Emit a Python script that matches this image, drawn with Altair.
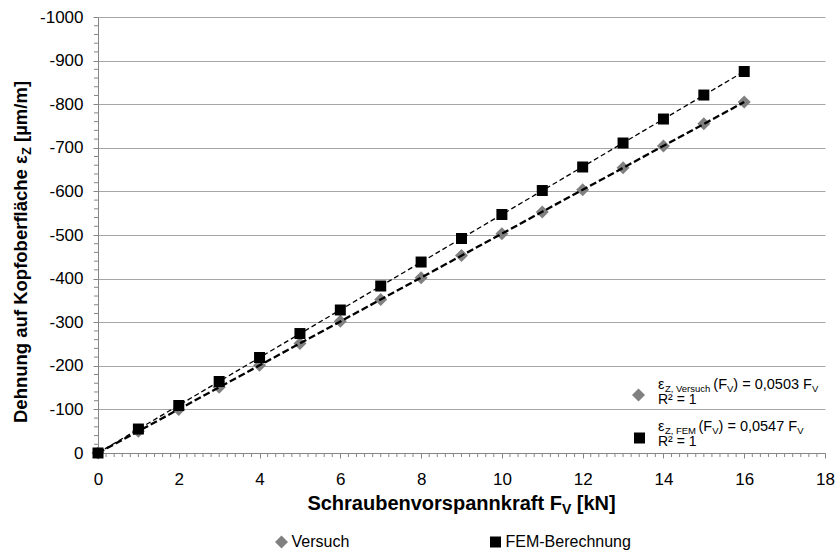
import altair as alt
import pandas as pd

# ---------------- data ----------------
F_kN = list(range(17))
eps_versuch = [0, -50, -100, -151, -201, -251, -302, -352, -402, -453,
               -503, -553, -604, -654, -704, -755, -805]
eps_fem = [0, -55, -109, -164, -219, -274, -328, -383, -438, -492,
           -547, -602, -656, -711, -766, -821, -875]
series_names = ["Versuch", "FEM-Berechnung"]
x_ticks = list(range(0, 19, 2))
y_ticks = list(range(-1000, 1, 100))
eq_versuch = ["ε", "Z, Versuch", "(F", "V", ") = 0,0503 F", "V"]
eq_fem = ["ε", "Z, FEM", "(F", "V", ") = 0,0547 F", "V"]
r2_text = "R² = 1"
x_title = ["Schraubenvorspannkraft F", "V", "[kN]"]
y_title = ["Dehnung auf Kopfoberfläche ε", "Z", "[µm/m]"]

# ---------------- layout ----------------
W, H = 727, 436
ORX, ORY = 98, 17
FONT = "Liberation Sans"
AXC = "#868686"
GRIDC = "#a6a6a6"

df = pd.DataFrame({
    "F": F_kN * 2,
    "eps": eps_versuch + eps_fem,
    "series": [series_names[0]] * len(F_kN) + [series_names[1]] * len(F_kN),
})

X_SCALE = alt.Scale(domain=[0, 18], nice=False, zero=False)
Y_SCALE = alt.Scale(domain=[-1000, 0], reverse=True, nice=False)

# Arial / Liberation Sans metrics (units per 1000 em)
AR = {" ": 278, "(": 333, ")": 333, ",": 278, ".": 278, "=": 584,
      "²": 333, "F": 611, "R": 722, "V": 667, "Z": 611, "E": 667, "M": 833,
      "e": 556, "r": 333, "s": 500, "u": 556, "c": 500, "h": 556, "ε": 440}
for d in "0123456789":
    AR[d] = 556
ARB = {" ": 278, "S": 667, "c": 556, "h": 611, "r": 389, "a": 556,
       "u": 611, "b": 611, "e": 556, "n": 611, "v": 556, "o": 611, "p": 611,
       "k": 556, "f": 333, "t": 333, "F": 611, "V": 667, "[": 333, "]": 333,
       "N": 722, "K": 722, "D": 722, "g": 611, "l": 278, "ä": 556, "ε": 490,
       "Z": 611, "µ": 611, "m": 889, "/": 278}


def tw(s, size, bold=False):
    tbl = ARB if bold else AR
    return sum(tbl.get(c, 556) for c in s) * size / 1000.0


dummy = pd.DataFrame({"k": [0]})


def txt(s, x, y, size, bold=False, angle=0):
    kw = dict(text=s, fontSize=size, font=FONT, align="left",
              baseline="alphabetic", color="black")
    if bold:
        kw["fontWeight"] = "bold"
    if angle:
        kw["angle"] = angle
    return alt.Chart(dummy).mark_text(**kw).encode(
        x=alt.value(x - ORX), y=alt.value(y - ORY))


def rich_h(parts, sizes, shifts, gaps, x0, y0, bold=False):
    layers = []
    x = x0
    for s, sz, sh, g in zip(parts, sizes, shifts, gaps):
        x += g
        layers.append(txt(s, x, y0 + sh, sz, bold))
        x += tw(s, sz, bold)
    return layers


def rich_v(parts, sizes, shifts, gaps, x0, y0, bold=False):
    layers = []
    y = y0
    for s, sz, sh, g in zip(parts, sizes, shifts, gaps):
        y -= g
        layers.append(txt(s, x0 + sh, y, sz, bold, angle=270))
        y -= tw(s, sz, bold)
    return layers


# ---------------- marks ----------------
legend = alt.Legend(orient="none", legendX=175.5, legendY=517,
                    direction="horizontal", title=None,
                    symbolSize=90, labelFontSize=16,
                    labelFont=FONT, labelColor="black",
                    labelOffset=2, columnPadding=138,
                    padding=0, symbolStrokeWidth=0)

points = alt.Chart(df).mark_point(filled=True, opacity=1).encode(
    x=alt.X("F:Q", scale=X_SCALE, axis=alt.Axis(
        values=x_ticks, title=None, grid=False, tickSize=5, labelPadding=13,
        labelFlush=False, labelOverlap=False)),
    y=alt.Y("eps:Q", scale=Y_SCALE, axis=alt.Axis(
        values=y_ticks, title=None, grid=True, tickSize=5, labelPadding=10,
        labelExpr="'' + datum.value")),
    color=alt.Color("series:N", scale=alt.Scale(domain=series_names,
                                                range=["#808080", "#000000"]),
                    legend=legend),
    shape=alt.Shape("series:N", scale=alt.Scale(domain=series_names,
                                                range=["diamond", "square"]),
                    legend=legend),
    size=alt.Size("series:N", scale=alt.Scale(domain=series_names,
                                              range=[169, 121]), legend=None),
)


def trend(name, width, dash):
    return alt.Chart(df).transform_filter(
        alt.datum.series == name
    ).transform_regression("F", "eps").mark_line(
        color="black", strokeWidth=width, strokeDash=dash
    ).encode(x=alt.X("F:Q", scale=X_SCALE), y=alt.Y("eps:Q", scale=Y_SCALE))


trend_v = trend(series_names[0], 2.3, [7, 3])
trend_f = trend(series_names[1], 1.3, [5, 3])

# minor ticks
x_minor = [round(i * 0.2, 1) for i in range(91) if i % 10 != 0]
y_minor = [v for v in range(-1000, 1, 20) if v % 100 != 0]
xm = alt.Chart(pd.DataFrame({"F": x_minor})).mark_rule(
    color=AXC, strokeWidth=1).encode(
    x=alt.X("F:Q", scale=X_SCALE), y=alt.value(H), y2=alt.value(H + 4))
ym = alt.Chart(pd.DataFrame({"eps": y_minor})).mark_rule(
    color=AXC, strokeWidth=1).encode(
    y=alt.Y("eps:Q", scale=Y_SCALE), x=alt.value(-4), x2=alt.value(0))

# annotation (trend equations)
eq_sizes = [14.5, 9.5, 14.5, 9.5, 14.5, 9.5]
eq_shift = [0, 3, 0, 3, 0, 3]
eq_gaps = [0, 0.5, 2.5, 0, 0, 0]
ann = []
ann += rich_h(eq_versuch, eq_sizes, eq_shift, eq_gaps, 658, 389)
ann.append(txt(r2_text, 658, 404, 14))
ann += rich_h(eq_fem, eq_sizes, eq_shift, eq_gaps, 658, 431)
ann.append(txt(r2_text, 658, 446, 14))

# axis titles with subscripts
xt_sizes = [20, 14, 20]
xt_gaps = [0, 0, 5.5]
xt_w = sum(tw(s, z, True) for s, z in zip(x_title, xt_sizes)) + sum(xt_gaps)
titles = rich_h(x_title, xt_sizes, [0, 4, 0], xt_gaps,
                ORX + W / 2 - xt_w / 2, 510, bold=True)
titles += rich_v(y_title, [18.5, 13, 18.5], [0, 4, 0], [0, 0, 5],
                 27, 423, bold=True)

# legend symbols next to the equations
eq_sym = alt.Chart(pd.DataFrame({"series": series_names,
                                 "px": [638.5 - ORX, 639.5 - ORX],
                                 "py": [395 - ORY, 438 - ORY]})).mark_point(
    filled=True, opacity=1).encode(
    x=alt.X("px:Q", scale=None), y=alt.Y("py:Q", scale=None),
    color=alt.Color("series:N"), shape=alt.Shape("series:N"),
    size=alt.Size("series:N"))

chart = alt.layer(
    points, trend_v, trend_f, xm, ym, eq_sym, *ann, *titles
).properties(
    width=W, height=H,
    autosize=alt.AutoSizeParams(type="none"),
    padding={"left": ORX, "top": ORY, "right": 837 - ORX - W,
             "bottom": 550 - ORY - H},
    background="white",
).configure_view(stroke=None).configure_axis(
    domainColor=AXC, tickColor=AXC, gridColor=GRIDC, gridWidth=1,
    labelFont=FONT, labelFontSize=17, labelColor="black",
).configure_point(strokeWidth=0)

chart.save("out.html", embed_options={"renderer": "svg", "actions": False})
